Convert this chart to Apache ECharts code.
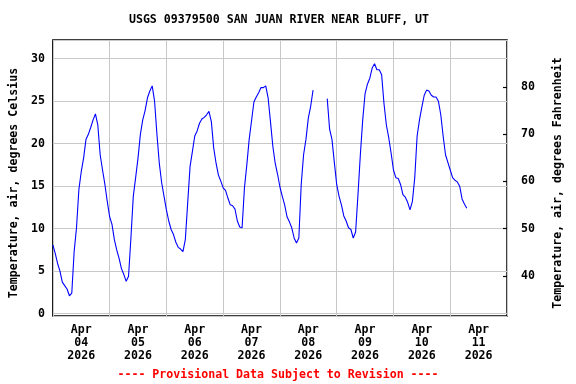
<!DOCTYPE html>
<html><head><meta charset="utf-8">
<script src="https://cdn.jsdelivr.net/npm/echarts@6/dist/echarts.min.js"></script>
<style>html,body{margin:0;padding:0;background:#fff}#c{width:576px;height:384px}</style>
</head><body><div id="c"></div>
<script>
const titleText = 'USGS 09379500 SAN JUAN RIVER NEAR BLUFF, UT';
const footerText = '---- Provisional Data Subject to Revision ----';
const leftAxisName = 'Temperature, air, degrees Celsius';
const rightAxisName = 'Temperature, air, degrees Fahrenheit';
const dayLabels = ['Apr\n04\n2026','Apr\n05\n2026','Apr\n06\n2026','Apr\n07\n2026','Apr\n08\n2026','Apr\n09\n2026','Apr\n10\n2026','Apr\n11\n2026'];
// hourly air temperature (deg C) starting Apr 04 2026 00:00
const airTempC = [
  8.1, 7.1, 5.9, 5.0, 3.7, 3.3, 2.9, 2.1, 2.4, 7.3, 10.1, 14.6, 16.7, 18.3, 20.5, 21.1, 21.9, 22.8, 23.5, 22.2, 18.7, 16.9, 15.2, 13.2,
  11.4, 10.5, 8.7, 7.5, 6.5, 5.3, 4.6, 3.8, 4.4, 8.9, 13.8, 16.0, 18.3, 21.1, 22.8, 23.9, 25.4, 26.2, 26.8, 25.0, 21.1, 17.7, 15.4, 13.8,
  12.2, 10.9, 9.9, 9.3, 8.4, 7.8, 7.6, 7.3, 8.7, 13.0, 17.3, 19.1, 20.9, 21.5, 22.4, 22.9, 23.1, 23.4, 23.8, 22.6, 19.5, 17.7, 16.3, 15.6,
  14.8, 14.5, 13.6, 12.8, 12.7, 12.3, 10.9, 10.2, 10.1, 14.8, 17.5, 20.5, 22.7, 24.9, 25.5, 26.0, 26.6, 26.6, 26.8, 25.4, 22.6, 19.7, 17.7, 16.4,
  14.9, 13.8, 12.8, 11.4, 10.8, 10.1, 8.9, 8.3, 8.9, 15.2, 18.7, 20.5, 23.0, 24.4, 26.3, null, null, null, null, null, 25.3, 21.7, 20.5, 17.8,
  15.2, 13.8, 12.8, 11.5, 10.9, 10.1, 9.9, 8.9, 9.6, 14.0, 18.7, 22.8, 25.9, 27.0, 27.7, 28.9, 29.4, 28.7, 28.7, 28.1, 24.7, 22.2, 20.7, 18.9,
  16.9, 16.0, 15.9, 15.2, 14.0, 13.7, 13.1, 12.2, 13.2, 16.0, 20.9, 22.8, 24.3, 25.7, 26.3, 26.2, 25.7, 25.5, 25.5, 25.0, 23.4, 20.9, 18.7, 17.8,
  16.9, 16.0, 15.7, 15.5, 15.0, 13.5, 12.9, 12.4
];
const minC = -0.28, maxC = 32.2;
const cToF = c => c * 1.8 + 32;
const FONT = 'DejaVu Sans Mono';
const FS = 11.6;
const txt = {fontFamily: FONT, fontWeight: 'bold', fontSize: FS, color: '#000'};

const chart = echarts.init(document.getElementById('c'), null, {renderer: 'canvas'});
chart.setOption({
  animation: false,
  backgroundColor: '#fff',
  grid: {left: 51, right: 69, top: 40, bottom: 68, show: true, borderColor: '#000', borderWidth: 1.5, backgroundColor: 'transparent'},
  graphic: [
    {type: 'text', x: 279, y: 20, style: {text: titleText, fill: '#000', font: 'bold ' + FS + 'px ' + FONT, textAlign: 'center', textVerticalAlign: 'middle'}},
    {type: 'text', x: 278, y: 375, style: {text: footerText, fill: '#ff0000', font: 'bold ' + FS + 'px ' + FONT, textAlign: 'center', textVerticalAlign: 'middle'}}
  ],
  xAxis: [
    {type: 'value', min: 0, max: 192, show: false},
    {type: 'category', data: dayLabels, boundaryGap: true, position: 'bottom',
     axisLine: {show: false}, axisTick: {show: false},
     splitLine: {show: true, interval: 0, lineStyle: {color: '#c8c8c8', width: 1}},
     axisLabel: Object.assign({interval: 0, margin: 7, lineHeight: 13}, txt)}
  ],
  yAxis: [
    {type: 'value', min: minC, max: maxC, minInterval: 5, maxInterval: 5, position: 'left',
     name: leftAxisName, nameLocation: 'middle', nameGap: 31, nameRotate: 90,
     nameTextStyle: {fontFamily: FONT, fontWeight: 'bold', fontSize: FS, color: '#000', padding: [0, 10, 0, 0]},
     axisLine: {show: false}, axisTick: {show: false},
     splitLine: {show: true, lineStyle: {color: '#c8c8c8', width: 1}},
     axisLabel: Object.assign({margin: 8, showMinLabel: false, showMaxLabel: false,
       formatter: v => (Math.abs(v % 5) < 1e-6 ? String(Math.round(v)) : '')}, txt)},
    {type: 'value', min: cToF(minC), max: cToF(maxC), minInterval: 10, maxInterval: 10, position: 'right',
     name: rightAxisName, nameLocation: 'middle', nameGap: 45, nameRotate: 90,
     nameTextStyle: {fontFamily: FONT, fontWeight: 'bold', fontSize: FS, color: '#000', padding: [0, 10, 0, 0]},
     axisLine: {show: false}, axisTick: {show: true, inside: true, length: 4, lineStyle: {color: '#000', width: 1.2}},
     splitLine: {show: false},
     axisLabel: Object.assign({margin: 14, showMinLabel: false, showMaxLabel: false,
       formatter: v => (Math.abs(v % 10) < 1e-6 ? String(Math.round(v)) : '')}, txt)}
  ],
  series: [{
    type: 'line', xAxisIndex: 0, yAxisIndex: 0,
    data: airTempC.map((v, i) => [i, v]),
    showSymbol: false, connectNulls: false,
    lineStyle: {color: '#0000ff', width: 1.1},
    itemStyle: {color: '#0000ff'}
  }]
});
</script></body></html>
